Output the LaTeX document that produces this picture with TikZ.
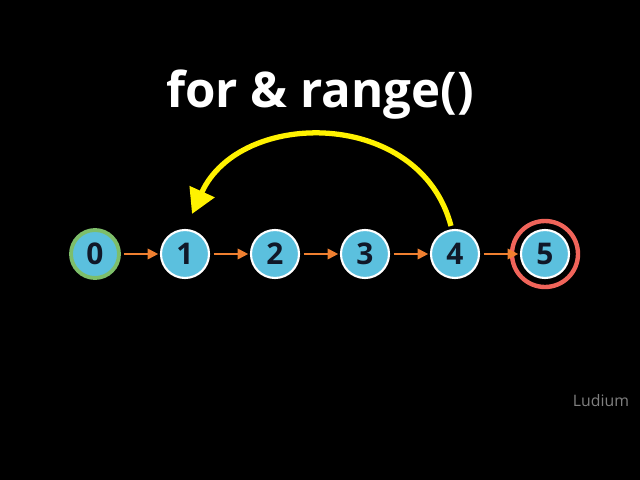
\documentclass[tikz,border=0pt]{standalone}
\usepackage{fontspec}
\setmainfont{Open Sans}
\usetikzlibrary{arrows.meta,positioning}
\definecolor{nodeblue}{HTML}{5BC0DE}
\definecolor{startgreen}{HTML}{7DBE6A}
\definecolor{stopred}{HTML}{F0645A}
\definecolor{stepor}{HTML}{F08030}
\definecolor{digit}{HTML}{101828}
\tikzset{
  step node/.style={circle,fill=nodeblue,draw=white,line width=1.2pt,minimum size=0.96cm,inner sep=0pt,text=digit,font=\bfseries\fontsize{17}{20}\selectfont},
  next arrow/.style={draw=stepor,line width=1pt,-{Triangle[length=6pt,width=6pt]},shorten >=1pt,shorten <=2pt}
}
\begin{document}
\begin{tikzpicture}[x=0.02cm,y=-0.02cm]
  \fill[black] (0,0) rectangle (640,480);
  \useasboundingbox (0,0) rectangle (640,480);

  \node[font=\bfseries\fontsize{28}{32}\selectfont,text=white] (title) at (320,95) {for \& range()};

  \node[step node,draw=startgreen,line width=2.2pt] (n0) at (95,254) {0};
  \foreach \i/\x in {1/185,2/275,3/365,4/455,5/545}
    \node[step node] (n\i) at (\x,254) {\i};
  \draw[stopred,line width=2.5pt] (n5) circle (33);

  \foreach \a/\b in {0/1,1/2,2/3,3/4,4/5}
    \draw[next arrow] (n\a) -- (n\b);

  % loop back
  \coordinate (loopend) at (192,214);
  \draw[yellow,line width=3pt,-{Triangle[length=14pt,width=15pt]}]
    (n4.north) ++(-4,-3) .. controls (420,108) and (240,108) .. (loopend);

  \node[text=gray,font=\small] (brand) at (601,401) {Ludium};
\end{tikzpicture}
\end{document}
